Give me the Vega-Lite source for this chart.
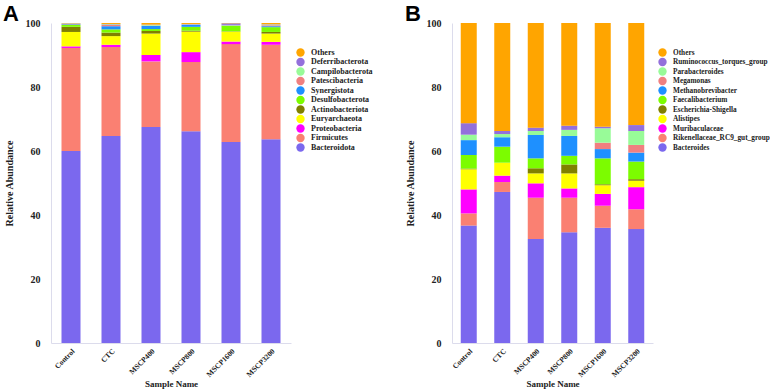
{
  "$schema": "https://vega.github.io/schema/vega-lite/v6.json",
  "padding": {"left": 3, "top": 3, "right": 0, "bottom": 0},
  "background": "white",
  "datasets": {
    "phylum": [
      {"s":"Control","t":"Bacteroidota","k":1,"v":60.0},{"s":"Control","t":"Firmicutes","k":2,"v":32.2},{"s":"Control","t":"Proteobacteria","k":3,"v":0.5},{"s":"Control","t":"Euryarchaeota","k":4,"v":4.5},{"s":"Control","t":"Actinobacteriota","k":5,"v":1.6},{"s":"Control","t":"Desulfobacterota","k":6,"v":0.6},{"s":"Control","t":"Synergistota","k":7,"v":0.2},{"s":"Control","t":"Patescibacteria","k":8,"v":0.1},{"s":"Control","t":"Campilobacterota","k":9,"v":0.1},{"s":"Control","t":"Deferribacterota","k":10,"v":0.1},{"s":"Control","t":"Others","k":11,"v":0.1},
      {"s":"CTC","t":"Bacteroidota","k":1,"v":64.7},{"s":"CTC","t":"Firmicutes","k":2,"v":27.8},{"s":"CTC","t":"Proteobacteria","k":3,"v":0.7},{"s":"CTC","t":"Euryarchaeota","k":4,"v":2.7},{"s":"CTC","t":"Actinobacteriota","k":5,"v":1.1},{"s":"CTC","t":"Desulfobacterota","k":6,"v":1.0},{"s":"CTC","t":"Synergistota","k":7,"v":1.0},{"s":"CTC","t":"Patescibacteria","k":8,"v":0.4},{"s":"CTC","t":"Campilobacterota","k":9,"v":0.2},{"s":"CTC","t":"Deferribacterota","k":10,"v":0.1},{"s":"CTC","t":"Others","k":11,"v":0.3},
      {"s":"MSCP400","t":"Bacteroidota","k":1,"v":67.5},{"s":"MSCP400","t":"Firmicutes","k":2,"v":20.5},{"s":"MSCP400","t":"Proteobacteria","k":3,"v":2.0},{"s":"MSCP400","t":"Euryarchaeota","k":4,"v":6.7},{"s":"MSCP400","t":"Actinobacteriota","k":5,"v":0.8},{"s":"MSCP400","t":"Desulfobacterota","k":6,"v":0.6},{"s":"MSCP400","t":"Synergistota","k":7,"v":1.0},{"s":"MSCP400","t":"Patescibacteria","k":8,"v":0.1},{"s":"MSCP400","t":"Campilobacterota","k":9,"v":0.2},{"s":"MSCP400","t":"Deferribacterota","k":10,"v":0.1},{"s":"MSCP400","t":"Others","k":11,"v":0.5},
      {"s":"MSCP800","t":"Bacteroidota","k":1,"v":66.2},{"s":"MSCP800","t":"Firmicutes","k":2,"v":21.6},{"s":"MSCP800","t":"Proteobacteria","k":3,"v":3.1},{"s":"MSCP800","t":"Euryarchaeota","k":4,"v":6.4},{"s":"MSCP800","t":"Actinobacteriota","k":5,"v":0.3},{"s":"MSCP800","t":"Desulfobacterota","k":6,"v":1.2},{"s":"MSCP800","t":"Synergistota","k":7,"v":0.6},{"s":"MSCP800","t":"Patescibacteria","k":8,"v":0.1},{"s":"MSCP800","t":"Campilobacterota","k":9,"v":0.1},{"s":"MSCP800","t":"Deferribacterota","k":10,"v":0.1},{"s":"MSCP800","t":"Others","k":11,"v":0.3},
      {"s":"MSCP1600","t":"Bacteroidota","k":1,"v":62.8},{"s":"MSCP1600","t":"Firmicutes","k":2,"v":30.6},{"s":"MSCP1600","t":"Proteobacteria","k":3,"v":0.8},{"s":"MSCP1600","t":"Euryarchaeota","k":4,"v":3.1},{"s":"MSCP1600","t":"Actinobacteriota","k":5,"v":0.1},{"s":"MSCP1600","t":"Desulfobacterota","k":6,"v":1.7},{"s":"MSCP1600","t":"Synergistota","k":7,"v":0.1},{"s":"MSCP1600","t":"Patescibacteria","k":8,"v":0.1},{"s":"MSCP1600","t":"Campilobacterota","k":9,"v":0.1},{"s":"MSCP1600","t":"Deferribacterota","k":10,"v":0.5},{"s":"MSCP1600","t":"Others","k":11,"v":0.1},
      {"s":"MSCP3200","t":"Bacteroidota","k":1,"v":63.7},{"s":"MSCP3200","t":"Firmicutes","k":2,"v":29.5},{"s":"MSCP3200","t":"Proteobacteria","k":3,"v":0.9},{"s":"MSCP3200","t":"Euryarchaeota","k":4,"v":2.6},{"s":"MSCP3200","t":"Actinobacteriota","k":5,"v":0.5},{"s":"MSCP3200","t":"Desulfobacterota","k":6,"v":1.5},{"s":"MSCP3200","t":"Synergistota","k":7,"v":0.3},{"s":"MSCP3200","t":"Patescibacteria","k":8,"v":0.3},{"s":"MSCP3200","t":"Campilobacterota","k":9,"v":0.2},{"s":"MSCP3200","t":"Deferribacterota","k":10,"v":0.1},{"s":"MSCP3200","t":"Others","k":11,"v":0.4}
    ],
    "genus": [
      {"s":"Control","t":"Bacteroides","k":1,"v":36.7},{"s":"Control","t":"Rikenellaceae_RC9_gut_group","k":2,"v":3.8},{"s":"Control","t":"Muribaculaceae","k":3,"v":7.5},{"s":"Control","t":"Alistipes","k":4,"v":6.3},{"s":"Control","t":"Escherichia-Shigella","k":5,"v":0.2},{"s":"Control","t":"Faecalibacterium","k":6,"v":4.25},{"s":"Control","t":"Methanobrevibacter","k":7,"v":4.65},{"s":"Control","t":"Megamonas","k":8,"v":0.0},{"s":"Control","t":"Parabacteroides","k":9,"v":1.7},{"s":"Control","t":"Ruminococcus_torques_group","k":10,"v":3.6},{"s":"Control","t":"Others","k":11,"v":31.3},
      {"s":"CTC","t":"Bacteroides","k":1,"v":47.2},{"s":"CTC","t":"Rikenellaceae_RC9_gut_group","k":2,"v":3.1},{"s":"CTC","t":"Muribaculaceae","k":3,"v":2.0},{"s":"CTC","t":"Alistipes","k":4,"v":4.05},{"s":"CTC","t":"Escherichia-Shigella","k":5,"v":0.0},{"s":"CTC","t":"Faecalibacterium","k":6,"v":5.0},{"s":"CTC","t":"Methanobrevibacter","k":7,"v":2.95},{"s":"CTC","t":"Megamonas","k":8,"v":0.0},{"s":"CTC","t":"Parabacteroides","k":9,"v":1.0},{"s":"CTC","t":"Ruminococcus_torques_group","k":10,"v":0.95},{"s":"CTC","t":"Others","k":11,"v":33.75},
      {"s":"MSCP400","t":"Bacteroides","k":1,"v":32.5},{"s":"MSCP400","t":"Rikenellaceae_RC9_gut_group","k":2,"v":12.9},{"s":"MSCP400","t":"Muribaculaceae","k":3,"v":4.5},{"s":"MSCP400","t":"Alistipes","k":4,"v":3.1},{"s":"MSCP400","t":"Escherichia-Shigella","k":5,"v":1.6},{"s":"MSCP400","t":"Faecalibacterium","k":6,"v":3.1},{"s":"MSCP400","t":"Methanobrevibacter","k":7,"v":7.3},{"s":"MSCP400","t":"Megamonas","k":8,"v":0.0},{"s":"MSCP400","t":"Parabacteroides","k":9,"v":1.25},{"s":"MSCP400","t":"Ruminococcus_torques_group","k":10,"v":1.05},{"s":"MSCP400","t":"Others","k":11,"v":32.7},
      {"s":"MSCP800","t":"Bacteroides","k":1,"v":34.6},{"s":"MSCP800","t":"Rikenellaceae_RC9_gut_group","k":2,"v":10.8},{"s":"MSCP800","t":"Muribaculaceae","k":3,"v":2.9},{"s":"MSCP800","t":"Alistipes","k":4,"v":4.7},{"s":"MSCP800","t":"Escherichia-Shigella","k":5,"v":2.8},{"s":"MSCP800","t":"Faecalibacterium","k":6,"v":2.7},{"s":"MSCP800","t":"Methanobrevibacter","k":7,"v":6.2},{"s":"MSCP800","t":"Megamonas","k":8,"v":0.0},{"s":"MSCP800","t":"Parabacteroides","k":9,"v":1.9},{"s":"MSCP800","t":"Ruminococcus_torques_group","k":10,"v":1.3},{"s":"MSCP800","t":"Others","k":11,"v":32.1},
      {"s":"MSCP1600","t":"Bacteroides","k":1,"v":36.0},{"s":"MSCP1600","t":"Rikenellaceae_RC9_gut_group","k":2,"v":6.9},{"s":"MSCP1600","t":"Muribaculaceae","k":3,"v":3.7},{"s":"MSCP1600","t":"Alistipes","k":4,"v":2.7},{"s":"MSCP1600","t":"Escherichia-Shigella","k":5,"v":0.3},{"s":"MSCP1600","t":"Faecalibacterium","k":6,"v":8.1},{"s":"MSCP1600","t":"Methanobrevibacter","k":7,"v":2.9},{"s":"MSCP1600","t":"Megamonas","k":8,"v":2.0},{"s":"MSCP1600","t":"Parabacteroides","k":9,"v":4.5},{"s":"MSCP1600","t":"Ruminococcus_torques_group","k":10,"v":0.5},{"s":"MSCP1600","t":"Others","k":11,"v":32.4},
      {"s":"MSCP3200","t":"Bacteroides","k":1,"v":35.6},{"s":"MSCP3200","t":"Rikenellaceae_RC9_gut_group","k":2,"v":6.2},{"s":"MSCP3200","t":"Muribaculaceae","k":3,"v":6.9},{"s":"MSCP3200","t":"Alistipes","k":4,"v":2.0},{"s":"MSCP3200","t":"Escherichia-Shigella","k":5,"v":0.5},{"s":"MSCP3200","t":"Faecalibacterium","k":6,"v":5.5},{"s":"MSCP3200","t":"Methanobrevibacter","k":7,"v":2.8},{"s":"MSCP3200","t":"Megamonas","k":8,"v":2.4},{"s":"MSCP3200","t":"Parabacteroides","k":9,"v":4.35},{"s":"MSCP3200","t":"Ruminococcus_torques_group","k":10,"v":1.85},{"s":"MSCP3200","t":"Others","k":11,"v":31.9}
    ]
  },
  "config": {
    "view": {"stroke": null},
    "font": "Liberation Serif",
    "axis": {
      "grid": false, "ticks": false, "domainColor": "#dcdcec", "domainWidth": 1,
      "labelFont": "Liberation Serif", "labelFontWeight": "bold", "labelColor": "#222",
      "titleFont": "Liberation Serif", "titleFontWeight": "bold", "titleColor": "#222"
    },
    "legend": {
      "labelFont": "Liberation Serif", "labelFontWeight": "bold", "labelColor": "#222",
      "symbolType": "circle", "symbolSize": 70, "symbolStrokeWidth": 0, "rowPadding": 0.5, "labelOffset": 6
    },
    "title": {"font": "Liberation Sans", "fontSize": 22, "fontWeight": "bold", "color": "#000", "anchor": "start"},
    "concat": {"spacing": 32}
  },
  "hconcat": [
    {
      "title": {"text": "A", "offset": -8, "dx": -1},
      "width": 240, "height": 320,
      "data": {"name": "phylum"},
      "mark": {"type": "bar", "width": 19},
      "encoding": {
        "x": {"field": "s", "type": "nominal", "sort": ["Control","CTC","MSCP400","MSCP800","MSCP1600","MSCP3200"],
              "axis": {"title": "Sample Name", "labelAngle": -45, "labelFontSize": 7.5, "titleFontSize": 9, "labelPadding": 4, "titlePadding": 2}},
        "y": {"field": "v", "type": "quantitative", "stack": "zero", "scale": {"domain": [0, 100]},
              "axis": {"title": "Relative Abundance", "values": [0,20,40,60,80,100], "labelFontSize": 10, "titleFontSize": 10, "labelPadding": 11, "titlePadding": 11}},
        "color": {"field": "t", "type": "nominal",
          "scale": {"domain": ["Others","Deferribacterota","Campilobacterota","Patescibacteria","Synergistota","Desulfobacterota","Actinobacteriota","Euryarchaeota","Proteobacteria","Firmicutes","Bacteroidota"],
                    "range": ["#FFA500","#9370DB","#98FB98","#F08080","#1E90FF","#7CFC00","#808000","#FFFF00","#FF00FF","#FA8072","#7B68EE"]},
          "legend": {"title": null, "orient": "none", "legendX": 245, "legendY": 25, "labelFontSize": 8}},
        "order": {"field": "k", "type": "quantitative", "sort": "ascending"}
      }
    },
    {
      "title": {"text": "B", "offset": -8, "dx": 0},
      "width": 201, "height": 320,
      "data": {"name": "genus"},
      "mark": {"type": "bar", "width": 16},
      "encoding": {
        "x": {"field": "s", "type": "nominal", "sort": ["Control","CTC","MSCP400","MSCP800","MSCP1600","MSCP3200"],
              "axis": {"title": "Sample Name", "labelAngle": -45, "labelFontSize": 7.5, "titleFontSize": 9, "labelPadding": 4, "titlePadding": 2}},
        "y": {"field": "v", "type": "quantitative", "stack": "zero", "scale": {"domain": [0, 100]},
              "axis": {"title": "Relative Abundance", "values": [0,20,40,60,80,100], "labelFontSize": 10, "titleFontSize": 10, "labelPadding": 11, "titlePadding": 11}},
        "color": {"field": "t", "type": "nominal",
          "scale": {"domain": ["Others","Ruminococcus_torques_group","Parabacteroides","Megamonas","Methanobrevibacter","Faecalibacterium","Escherichia-Shigella","Alistipes","Muribaculaceae","Rikenellaceae_RC9_gut_group","Bacteroides"],
                    "range": ["#FFA500","#9370DB","#98FB98","#F08080","#1E90FF","#7CFC00","#808000","#FFFF00","#FF00FF","#FA8072","#7B68EE"]},
          "legend": {"title": null, "orient": "none", "legendX": 206, "legendY": 25, "labelFontSize": 7.3}},
        "order": {"field": "k", "type": "quantitative", "sort": "ascending"}
      }
    }
  ],
  "resolve": {"scale": {"color": "independent"}, "legend": {"color": "independent"}}
}
